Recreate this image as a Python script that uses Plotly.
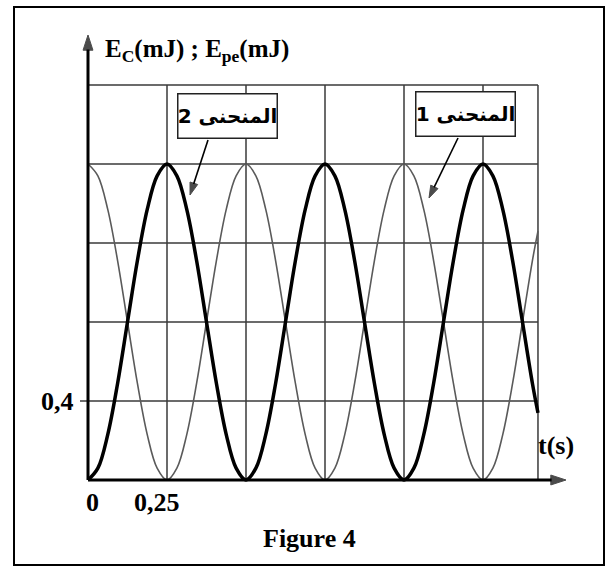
import plotly.graph_objects as go

# values (t in s, energies in mJ)
t_s = [0, 0.03125, 0.0625, 0.09375, 0.125, 0.15625, 0.1875, 0.21875,
       0.25, 0.28125, 0.3125, 0.34375, 0.375, 0.40625, 0.4375, 0.46875,
       0.5, 0.53125, 0.5625, 0.59375, 0.625, 0.65625, 0.6875, 0.71875,
       0.75, 0.78125, 0.8125, 0.84375, 0.875, 0.90625, 0.9375, 0.96875,
       1.0, 1.03125, 1.0625, 1.09375, 1.125, 1.15625, 1.1875, 1.21875,
       1.25, 1.28125, 1.3125, 1.34375, 1.375, 1.40625, 1.424]
curve1 = [1.6, 1.54, 1.37, 1.11, 0.8, 0.49, 0.23, 0.06,
          0, 0.06, 0.23, 0.49, 0.8, 1.11, 1.37, 1.54,
          1.6, 1.54, 1.37, 1.11, 0.8, 0.49, 0.23, 0.06,
          0, 0.06, 0.23, 0.49, 0.8, 1.11, 1.37, 1.54,
          1.6, 1.54, 1.37, 1.11, 0.8, 0.49, 0.23, 0.06,
          0, 0.06, 0.23, 0.49, 0.8, 1.11, 1.26]
curve2 = [0, 0.06, 0.23, 0.49, 0.8, 1.11, 1.37, 1.54,
          1.6, 1.54, 1.37, 1.11, 0.8, 0.49, 0.23, 0.06,
          0, 0.06, 0.23, 0.49, 0.8, 1.11, 1.37, 1.54,
          1.6, 1.54, 1.37, 1.11, 0.8, 0.49, 0.23, 0.06,
          0, 0.06, 0.23, 0.49, 0.8, 1.11, 1.37, 1.54,
          1.6, 1.54, 1.37, 1.11, 0.8, 0.49, 0.34]

grid_t = [0.25, 0.5, 0.75, 1.0, 1.25, 1.424]
grid_e = [0.4, 0.8, 1.2, 1.6, 2.0]
t_end = 1.424
e_top = 2.0

# pixel <-> data helpers (origin at 88,480 ; 316 px per s ; 197.5 px per mJ)
def dx(px):
    return (px - 88) / 316.0

def dy(py):
    return (480 - py) / 197.5

W, H = 614, 572
FONT = "Liberation Serif, Times New Roman, DejaVu Serif, DejaVu Sans"

fig = go.Figure()

shapes = []
for t in grid_t:
    shapes.append(dict(type="line", x0=t, x1=t, y0=0, y1=e_top, layer="below",
                       line=dict(color="#3a3a3a", width=1.5)))
for e in grid_e:
    x0 = dx(80) if e == 0.4 else 0
    shapes.append(dict(type="line", x0=x0, x1=t_end, y0=e, y1=e, layer="below",
                       line=dict(color="#3a3a3a", width=1.5)))
# outer frame
shapes.append(dict(type="rect", xref="paper", yref="paper",
                   x0=14 / W, x1=604 / W, y0=1 - 565 / H, y1=1 - 7 / H,
                   line=dict(color="black", width=2)))

fig.add_trace(go.Scatter(x=t_s, y=curve1, mode="lines", line_shape="spline",
                         line=dict(color="#5a5a5a", width=1.6), showlegend=False))
fig.add_trace(go.Scatter(x=t_s, y=curve2, mode="lines", line_shape="spline",
                         line=dict(color="black", width=3.5), showlegend=False))


def arrow(x, y, width, head):
    fig.add_trace(go.Scatter(
        x=x, y=y, mode="lines+markers", showlegend=False, hoverinfo="skip",
        line=dict(color="black", width=width),
        marker=dict(symbol="arrow", size=[0, head], angleref="previous",
                    color="black", line=dict(color="black", width=1))))


# axes
arrow([0, 0], [0, dy(35)], 3, 16)
arrow([0, dx(566)], [0, 0], 3, 16)
# pointers from the boxes to the curves
arrow([dx(208), dx(190)], [dy(140), dy(195)], 1.6, 13)
arrow([dx(458), dx(429)], [dy(138), dy(198)], 1.6, 13)

ann = []


def label(x, y, txt, xanchor="center", size=26):
    return dict(x=x, y=y, xref="x", yref="y", text=txt, showarrow=False,
                xanchor=xanchor, yanchor="middle",
                font=dict(family=FONT, size=size, color="black"))


ann.append(label(dx(103), dy(50), "<b>E<sub>C</sub>(mJ) ; E<sub>pe</sub>(mJ)</b>", "left", 25))
ann.append(label(dx(76), 0.4, "<b>0,4</b>", "right"))
ann.append(label(dx(92), dy(502), "<b>0</b>"))
ann.append(label(dx(157), dy(502), "<b>0,25</b>"))
ann.append(label(dx(556), dy(445), "<b>t(s)</b>"))
ann.append(label(dx(309), dy(538), "<b>Figure 4</b>"))

# curve labels in boxes
for cx, cy, txt in [(227, 116, "<b>المنحنى 2</b>"), (465, 114, "<b>المنحنى 1</b>")]:
    ann.append(dict(x=dx(cx), y=dy(cy), xref="x", yref="y", text=txt, showarrow=False,
                    width=98, height=43, bgcolor="white", bordercolor="#222",
                    borderwidth=1.5, borderpad=0,
                    font=dict(family="DejaVu Sans, Liberation Serif", size=20,
                              color="black")))

fig.update_layout(
    width=W, height=H,
    margin=dict(l=0, r=0, t=0, b=0),
    paper_bgcolor="white", plot_bgcolor="white",
    xaxis=dict(range=[dx(0), dx(W)], visible=False, fixedrange=True),
    yaxis=dict(range=[dy(H), dy(0)], visible=False, fixedrange=True),
    shapes=shapes,
    annotations=ann,
)

fig.write_html("out.html", config={"displayModeBar": False},
               post_script="document.body.style.margin='0px';")
